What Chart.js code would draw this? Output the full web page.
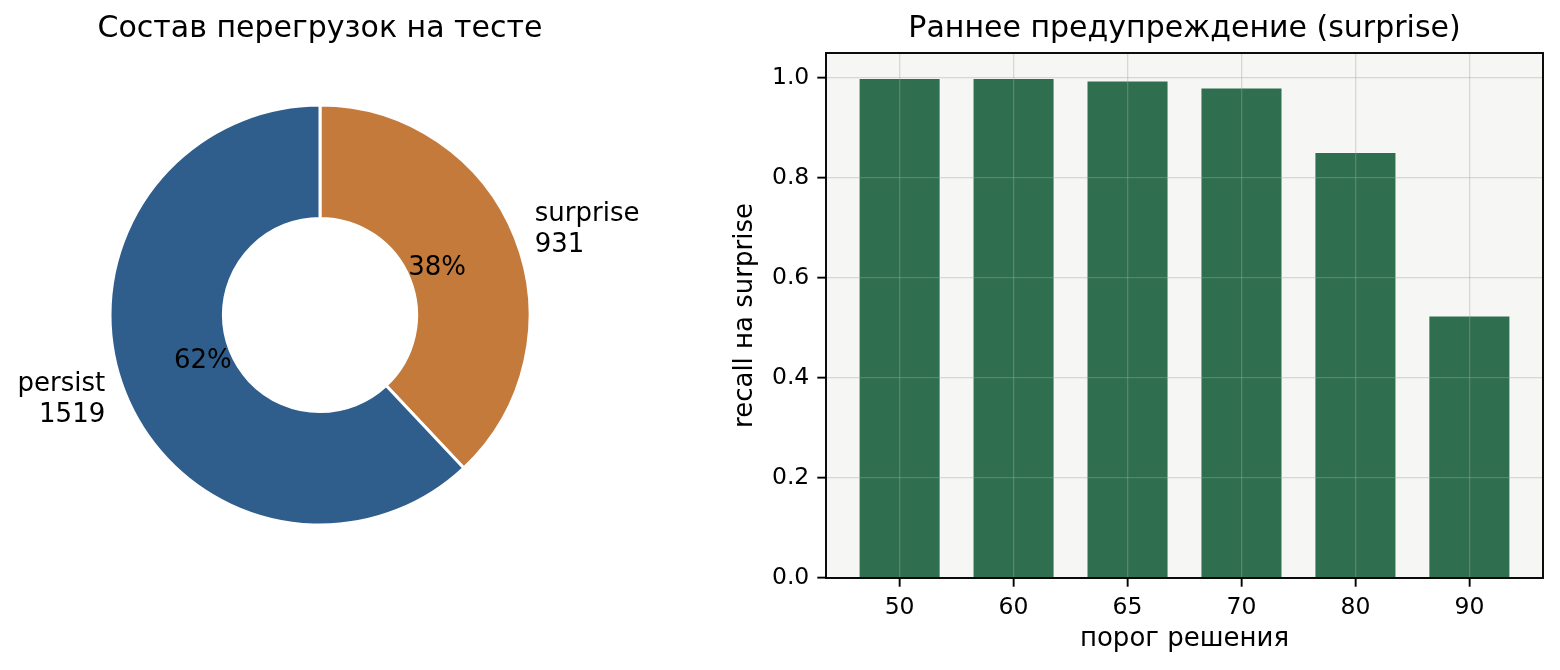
<!DOCTYPE html>
<html><head><meta charset="utf-8">
<script src="https://cdn.jsdelivr.net/npm/chart.js@4.4.1/dist/chart.umd.min.js"></script>
<style>
html,body{margin:0;padding:0;background:#fff;}
#wrap{position:relative;width:1560px;height:670px;overflow:hidden;}
.box{position:absolute;top:0;height:670px;}
</style>
</head><body>
<div id="wrap">
  <div class="box" style="left:0;width:700px"><canvas id="pie"></canvas></div>
  <div class="box" style="left:700px;width:860px"><canvas id="bar"></canvas></div>
</div>
<script>
// ---- data ----
const pieTitle = 'Состав перегрузок на тесте';
const pieLabels = ['surprise', 'persist'];
const pieValues = [931, 1519];
const pieColors = ['#c47a3a', '#2f5e8c'];

const barTitle = 'Раннее предупреждение (surprise)';
const thresholds = ['50', '60', '65', '70', '80', '90'];
const recall = [1.0, 1.0, 0.995, 0.981, 0.852, 0.525];
const yTicks = [0, 0.2, 0.4, 0.6, 0.8, 1.0];
const xAxisTitle = 'порог решения';
const yAxisTitle = 'recall на surprise';

const FONT = '"DejaVu Sans", "Liberation Sans", sans-serif';

// ---- donut ----
const pieText = {
  id: 'pieText',
  afterDatasetsDraw(chart) {
    const ctx = chart.ctx;
    const meta = chart.getDatasetMeta(0);
    const total = pieValues.reduce((a, b) => a + b, 0);
    ctx.save();
    ctx.fillStyle = '#000';
    meta.data.forEach((arc, i) => {
      const mid = (arc.startAngle + arc.endAngle) / 2;
      const R = arc.outerRadius;
      const cx = arc.x, cy = arc.y;
      const lx = cx + 1.1 * R * Math.cos(mid);
      const ly = cy + 1.1 * R * Math.sin(mid);
      ctx.font = '26px ' + FONT;
      ctx.textAlign = Math.cos(mid) >= 0 ? 'left' : 'right';
      ctx.textBaseline = 'middle';
      const lh = 31;
      ctx.fillText(pieLabels[i], lx, ly - lh / 2);
      ctx.fillText(String(pieValues[i]), lx, ly + lh / 2);
      const px = cx + 0.6 * R * Math.cos(mid);
      const py = cy + 0.6 * R * Math.sin(mid);
      ctx.textAlign = 'center';
      ctx.fillText(Math.round(pieValues[i] / total * 100) + '%', px, py);
    });
    ctx.font = '30px ' + FONT;
    ctx.textAlign = 'center';
    ctx.textBaseline = 'alphabetic';
    ctx.fillText(pieTitle, meta.data[0].x, 37);
    ctx.restore();
  }
};

new Chart(document.getElementById('pie'), {
  type: 'doughnut',
  data: {
    labels: pieLabels,
    datasets: [{
      data: pieValues,
      backgroundColor: pieColors,
      borderColor: '#ffffff',
      borderWidth: 3,
      radius: 210,
      cutout: '46%'
    }]
  },
  options: {
    responsive: true,
    maintainAspectRatio: false,
    animation: false,
    layout: { padding: { left: 0, right: 60, top: 0, bottom: 40 } },
    plugins: { legend: { display: false }, tooltip: { enabled: false } }
  },
  plugins: [pieText]
});

// ---- bars ----
const barDeco = {
  id: 'barDeco',
  beforeDraw(chart) {
    const { ctx, chartArea: a } = chart;
    ctx.save();
    ctx.fillStyle = '#f6f6f4';
    ctx.fillRect(a.left, a.top, a.right - a.left, a.bottom - a.top);
    ctx.restore();
  },
  afterDraw(chart) {
    const { ctx, chartArea: a } = chart;
    ctx.save();
    ctx.strokeStyle = '#000';
    ctx.lineWidth = 1.9;
    ctx.strokeRect(a.left, a.top, a.right - a.left, a.bottom - a.top);
    ctx.fillStyle = '#000';
    ctx.textAlign = 'center';
    ctx.textBaseline = 'alphabetic';
    ctx.font = '30px ' + FONT;
    ctx.fillText(barTitle, (a.left + a.right) / 2, 37);
    ctx.font = '26px ' + FONT;
    ctx.fillText(xAxisTitle, (a.left + a.right) / 2, 646);
    ctx.translate(45, (a.top + a.bottom) / 2);
    ctx.rotate(-Math.PI / 2);
    ctx.textBaseline = 'middle';
    ctx.fillText(yAxisTitle, 0, 0);
    ctx.restore();
  }
};

const gridOpts = { color: 'rgba(165,165,165,0.38)', lineWidth: 1.3, z: 1, offset: false,
                   tickColor: '#000', tickLength: 8.7, tickWidth: 1.9 };

new Chart(document.getElementById('bar'), {
  type: 'bar',
  data: {
    datasets: [{
      data: recall.map((v, i) => ({ x: i, y: v })),
      backgroundColor: '#2f6f4f',
      borderColor: 'rgba(255,255,255,0.4)',
      borderWidth: 1,
      barPercentage: 0.72,
      categoryPercentage: 1
    }]
  },
  options: {
    responsive: true,
    maintainAspectRatio: false,
    animation: false,
    layout: { padding: { left: 0, top: 53, right: 17, bottom: 0 } },
    plugins: { legend: { display: false }, tooltip: { enabled: false } },
    scales: {
      x: {
        type: 'linear',
        offset: false,
        min: -0.646, max: 5.646,
        afterBuildTicks: s => { s.ticks = thresholds.map((t, i) => ({ value: i })); },
        afterFit: s => { s.height = 92; },
        ticks: {
          callback: (v, idx) => thresholds[idx],
          font: { family: FONT, size: 23.5 },
          color: '#000', padding: 7, maxRotation: 0, autoSkip: false
        },
        grid: gridOpts,
        border: { display: false }
      },
      y: {
        type: 'linear',
        min: 0, max: 1.05,
        afterBuildTicks: s => { s.ticks = yTicks.map(v => ({ value: v })); },
        afterFit: s => { s.width = 126; },
        ticks: {
          callback: v => Number(v).toFixed(1),
          font: { family: FONT, size: 23.5 },
          color: '#000', padding: 8
        },
        grid: gridOpts,
        border: { display: false }
      }
    }
  },
  plugins: [barDeco]
});
</script>
</body></html>
